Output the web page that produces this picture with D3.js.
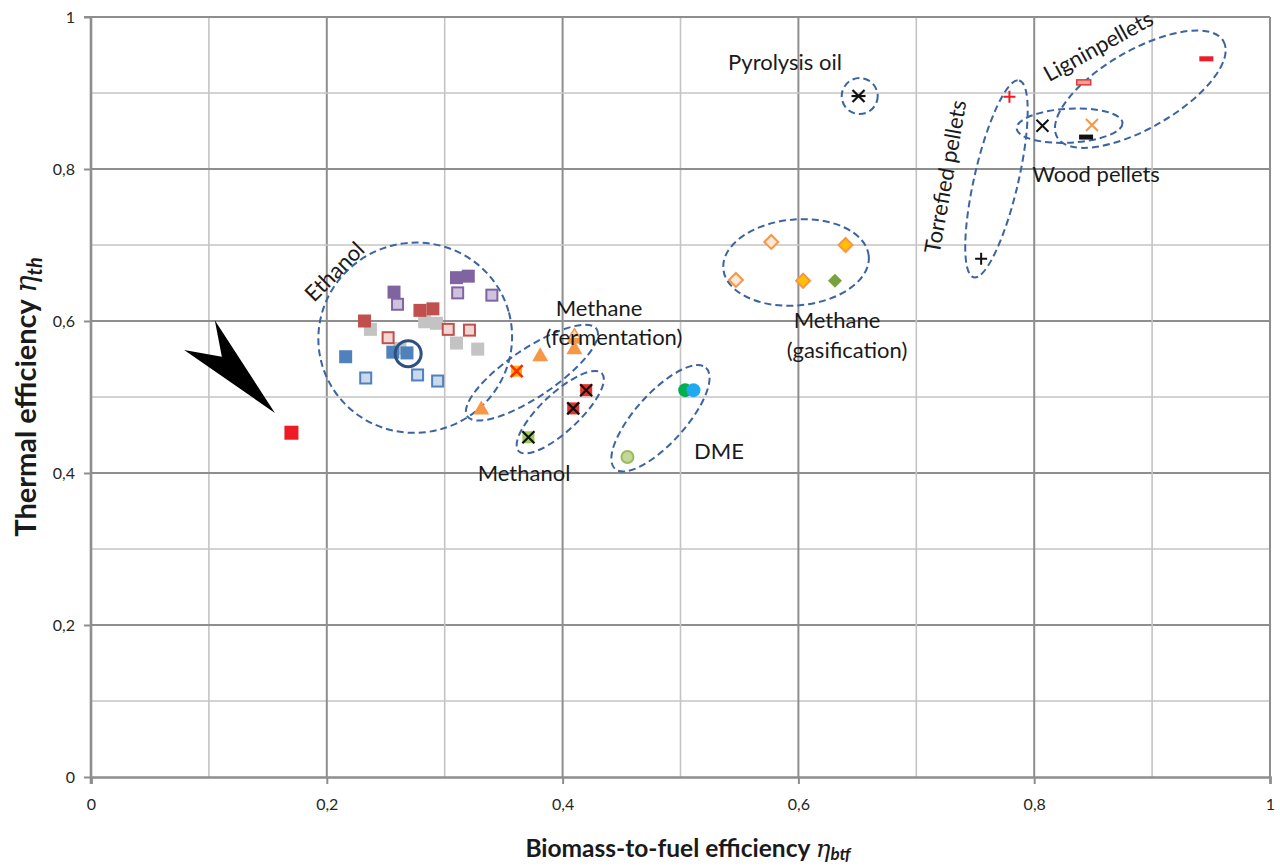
<!DOCTYPE html>
<html>
<head>
<meta charset="utf-8">
<script src="https://cdn.jsdelivr.net/npm/d3@7"></script>
<style>
  html, body { margin: 0; padding: 0; background: #fff; }
  svg { display: block; font-family: Lato, "Open Sans", sans-serif; }
</style>
</head>
<body>
<svg id="chart" width="1280" height="868"></svg>
<script>
// ---- data: [biomass-to-fuel efficiency, thermal efficiency] ----
const ethanolBlueSolid   = [[0.216, 0.553], [0.256, 0.559], [0.268, 0.558]];
const ethanolBlueLight   = [[0.233, 0.525], [0.277, 0.529], [0.294, 0.521]];
const ethanolPurpleSolid = [[0.257, 0.638], [0.310, 0.657], [0.320, 0.659]];
const ethanolPurpleLight = [[0.260, 0.622], [0.311, 0.637], [0.340, 0.634]];
const ethanolRedSolid    = [[0.232, 0.600], [0.279, 0.614], [0.290, 0.616]];
const ethanolRedLight    = [[0.252, 0.578], [0.303, 0.589], [0.321, 0.588]];
const ethanolGray        = [[0.237, 0.589], [0.262, 0.564], [0.283, 0.599], [0.293, 0.597], [0.310, 0.571], [0.328, 0.563]];
const ethanolHighlight   = [[0.269, 0.557]];
const referencePoint     = [[0.170, 0.453]];
const methaneFermSolid   = [[0.381, 0.555], [0.331, 0.485], [0.410, 0.564]];
const methaneFermLight   = [[0.410, 0.578]];
const methaneFermCross   = [[0.361, 0.534]];
const methanolRed        = [[0.420, 0.509], [0.409, 0.485]];
const methanolGreen      = [[0.371, 0.447]];
const dmeGreen           = [[0.504, 0.509]];
const dmeBlue            = [[0.511, 0.509]];
const dmeLight           = [[0.455, 0.421]];
const gasOpen            = [[0.577, 0.704], [0.547, 0.654]];
const gasFilled          = [[0.640, 0.700], [0.604, 0.653]];
const gasGreen           = [[0.631, 0.653]];
const pyrolysisOil       = [[0.651, 0.896]];
const torrefiedRed       = [[0.779, 0.895]];
const torrefiedBlack     = [[0.755, 0.682]];
const woodBlackX         = [[0.807, 0.857]];
const woodOrangeX        = [[0.849, 0.858]];
const woodDash           = [[0.844, 0.842]];
const ligninLight        = [[0.842, 0.914]];
const ligninRed          = [[0.946, 0.945]];

const tickValues = [0, 0.2, 0.4, 0.6, 0.8, 1];
const tickLabels = ["0", "0,2", "0,4", "0,6", "0,8", "1"];
const gridValues = [0.1, 0.2, 0.3, 0.4, 0.5, 0.6, 0.7, 0.8, 0.9, 1];

// product groups: centre in data units, semi-axes in px, rotation in degrees
const groupNames   = ["Ethanol", "Methane (fermentation)", "Methanol", "DME", "Methane (gasification)", "Pyrolysis oil", "Torrefied pellets", "Wood pellets", "Ligninpellets"];
const groupCenters = [[0.275, 0.578], [0.374, 0.532], [0.398, 0.480], [0.483, 0.472], [0.598, 0.677], [0.652, 0.896], [0.768, 0.787], [0.830, 0.857], [0.890, 0.905]];
const groupAxes    = [[97, 95], [78, 24], [57, 19], [68, 25], [73, 43], [18, 18], [101, 22], [53, 17], [96, 39]];
const groupAngles  = [-15, -34, -43, -48, -5, 0, -77, -3, -30];

// pointer towards the reference point
const pointerShape = [[0.105, 0.601], [0.111, 0.553], [0.079, 0.562], [0.156, 0.479]];

// ---- layout ----
const svg = d3.select("#chart");
const x = d3.scaleLinear().domain([0, 1]).range([91, 1270]);
const y = d3.scaleLinear().domain([0, 1]).range([777, 17]);

// grid
const grid = svg.append("g");
gridValues.forEach(v => {
  const major = Math.abs(v * 5 - Math.round(v * 5)) < 1e-6;
  grid.append("line").attr("x1", x(v)).attr("x2", x(v)).attr("y1", y(0)).attr("y2", y(1))
    .attr("stroke", major ? "#8e8e8e" : "#c4c4c4").attr("stroke-width", major ? 2 : 1.6);
  grid.append("line").attr("x1", x(0)).attr("x2", x(1)).attr("y1", y(v)).attr("y2", y(v))
    .attr("stroke", major ? "#8e8e8e" : "#c4c4c4").attr("stroke-width", major ? 2 : 1.6);
});

// axes
const fmt = d => tickLabels[tickValues.findIndex(t => Math.abs(t - d) < 1e-9)];
const xAxis = svg.append("g").attr("transform", `translate(0,${y(0)})`)
  .call(d3.axisBottom(x).tickValues(tickValues).tickFormat(fmt).tickSize(7).tickPadding(15));
const yAxis = svg.append("g").attr("transform", `translate(${x(0)},0)`)
  .call(d3.axisLeft(y).tickValues(tickValues).tickFormat(fmt).tickSize(7).tickPadding(9));
[xAxis, yAxis].forEach(a => {
  a.select(".domain").attr("stroke", "#8e8e8e").attr("stroke-width", 2.6);
  a.selectAll(".tick line").attr("stroke", "#8e8e8e").attr("stroke-width", 2);
  a.selectAll(".tick text").attr("fill", "#262626").style("font-size", "16px").style("font-family", "Lato, sans-serif");
});
yAxis.select(".domain").attr("d", `M0,${y(0) + 7}V${y(1)}`);
svg.append("line").attr("x1", x(0) - 7).attr("x2", x(0)).attr("y1", y(1)).attr("y2", y(1))
  .attr("stroke", "#8e8e8e").attr("stroke-width", 2);

// axis titles
const yTitle = svg.append("text")
  .attr("transform", `translate(36,${y(0.5)}) rotate(-90)`)
  .attr("text-anchor", "middle").attr("font-weight", "bold").attr("font-size", 29).attr("fill", "#1a1a1a");
yTitle.append("tspan").text("Thermal efficiency ");
yTitle.append("tspan").attr("font-style", "italic").attr("font-weight", "normal").attr("font-family", "DejaVu Serif, serif").text("η");
yTitle.append("tspan").attr("font-style", "italic").attr("font-size", 20).attr("dy", 6).text("th");

const xTitle = svg.append("text")
  .attr("x", 688).attr("y", 857)
  .attr("text-anchor", "middle").attr("font-weight", "bold").attr("font-size", 24.5).attr("fill", "#1a1a1a");
xTitle.append("tspan").text("Biomass-to-fuel efficiency ");
xTitle.append("tspan").attr("font-style", "italic").attr("font-weight", "normal").attr("font-family", "DejaVu Serif, serif").text("η");
xTitle.append("tspan").attr("font-style", "italic").attr("font-size", 17).attr("dy", 3).text("btf");

// group outlines
const groups = svg.append("g");
groupNames.forEach((name, i) => {
  const [cx, cy] = groupCenters[i];
  groups.append("ellipse")
    .attr("transform", `translate(${x(cx)},${y(cy)}) rotate(${groupAngles[i]})`)
    .attr("rx", groupAxes[i][0]).attr("ry", groupAxes[i][1])
    .attr("fill", "none").attr("stroke", "#3b64a0").attr("stroke-width", 2)
    .attr("stroke-dasharray", "7,4");
});

// markers
const pts = svg.append("g");
function place(data) {
  return pts.append("g").selectAll("g").data(data).join("g")
    .attr("transform", d => `translate(${x(d[0])},${y(d[1])})`);
}
function squares(data, fill, stroke, size) {
  const s = size || 13;
  const g = place(data);
  g.append("rect").attr("x", -s / 2).attr("y", -s / 2).attr("width", s).attr("height", s)
    .attr("fill", fill).attr("stroke", stroke || "none").attr("stroke-width", stroke ? 2 : 0);
  return g;
}
function crossLines(g, color, r, w) {
  g.append("path").attr("d", `M${-r},${-r}L${r},${r}M${-r},${r}L${r},${-r}`)
    .attr("stroke", color).attr("stroke-width", w).attr("fill", "none");
}
function plusLines(g, color, r, w) {
  g.append("path").attr("d", `M${-r},0L${r},0M0,${-r}L0,${r}`)
    .attr("stroke", color).attr("stroke-width", w).attr("fill", "none");
}
function triangles(data, fill, stroke) {
  const g = place(data);
  g.append("path").attr("d", "M0,-8L8,6L-8,6Z").attr("fill", fill)
    .attr("stroke", stroke || "none").attr("stroke-width", stroke ? 2 : 0);
  return g;
}
function diamonds(data, fill, stroke) {
  const g = place(data);
  g.append("path").attr("d", "M0,-7L7,0L0,7L-7,0Z").attr("fill", fill)
    .attr("stroke", stroke || "none").attr("stroke-width", stroke ? 2 : 0);
  return g;
}
function circles(data, fill, stroke, r) {
  const g = place(data);
  g.append("circle").attr("r", r).attr("fill", fill)
    .attr("stroke", stroke || "none").attr("stroke-width", stroke ? 2 : 0);
  return g;
}
function dashes(data, fill, stroke) {
  const g = place(data);
  g.append("rect").attr("x", -7).attr("y", -2.5).attr("width", 14).attr("height", 5)
    .attr("fill", fill).attr("stroke", stroke || "none").attr("stroke-width", stroke ? 1.5 : 0);
  return g;
}

// ethanol
squares(ethanolGray, "#c3c3c3");
squares(ethanolRedSolid, "#c0504d");
squares(ethanolRedLight, "#f2d6d4", "#c0504d", 11);
squares(ethanolPurpleSolid, "#8064a2");
squares(ethanolPurpleLight, "#cfc2de", "#8064a2", 11);
squares(ethanolBlueSolid, "#4f81bd");
squares(ethanolBlueLight, "#cbd9ee", "#4f81bd", 11);
circles(ethanolHighlight, "none", "#2d5082", 13).select("circle").attr("stroke-width", 3);
squares(referencePoint, "#ed1c24", null, 14);

// methane (fermentation)
triangles(methaneFermSolid, "#f79646");
triangles(methaneFermLight, "#f79646");
place(methaneFermLight).append("path").attr("d", "M0,-6L6,4L-6,4Z").attr("transform", "translate(0,-3)")
  .attr("fill", "#fde3c9").attr("stroke", "#f79646").attr("stroke-width", 1.5);
const fermX = squares(methaneFermCross, "#ffb000", null, 11);
crossLines(fermX, "#ff2a00", 6, 2.5);

// methanol
const mRed = squares(methanolRed, "#e8312b", null, 12);
crossLines(mRed, "#111", 6, 2.2);
const mGreen = squares(methanolGreen, "#9bcb59", null, 12);
crossLines(mGreen, "#111", 6, 2.2);

// DME
circles(dmeGreen, "#00b050", null, 7);
circles(dmeBlue, "#1eaaf0", null, 7);
circles(dmeLight, "#c3d69b", "#9bbb59", 6);

// methane (gasification)
diamonds(gasOpen, "#fde9d9", "#f79646");
diamonds(gasFilled, "#ffc000", "#f79646");
diamonds(gasGreen, "#77a33f");

// pyrolysis oil
const pyro = place(pyrolysisOil);
crossLines(pyro, "#111", 6, 2.2);
pyro.append("path").attr("d", "M-7,0L7,0").attr("stroke", "#111").attr("stroke-width", 2.2);

// pellets
plusLines(place(torrefiedRed), "#ee1c24", 6, 2);
plusLines(place(torrefiedBlack), "#111", 6, 2);
crossLines(place(woodBlackX), "#111", 6, 2);
crossLines(place(woodOrangeX), "#f79646", 6, 2);
dashes(woodDash, "#111");
dashes(ligninLight, "#f4a09c", "#e03a34");
dashes(ligninRed, "#ee1c24");

// pointer
svg.append("path")
  .attr("d", d3.line().x(d => x(d[0])).y(d => y(d[1])).curve(d3.curveLinearClosed)(pointerShape))
  .attr("fill", "#000");

// group labels
const lab = svg.append("g").attr("font-size", 22).attr("fill", "#1a1a1a");
lab.append("text").attr("transform", "translate(340,277) rotate(-45)").attr("text-anchor", "middle").text("Ethanol");
lab.append("text").attr("x", 599).attr("y", 316).attr("text-anchor", "middle").text("Methane");
lab.append("text").attr("x", 614).attr("y", 345).attr("text-anchor", "middle").text("(fermentation)");
lab.append("text").attr("x", 524).attr("y", 481).attr("text-anchor", "middle").text("Methanol");
lab.append("text").attr("x", 719).attr("y", 459).attr("text-anchor", "middle").text("DME");
lab.append("text").attr("x", 837).attr("y", 328).attr("text-anchor", "middle").text("Methane");
lab.append("text").attr("x", 847).attr("y", 358).attr("text-anchor", "middle").text("(gasification)");
lab.append("text").attr("x", 785).attr("y", 70).attr("text-anchor", "middle").text("Pyrolysis oil");
lab.append("text").attr("transform", "translate(953,178) rotate(-80)").attr("text-anchor", "middle").text("Torrefied  pellets");
lab.append("text").attr("transform", "translate(1102,53) rotate(-29)").attr("text-anchor", "middle").text("Ligninpellets");
lab.append("text").attr("x", 1096).attr("y", 182).attr("text-anchor", "middle").text("Wood pellets");
</script>
</body>
</html>
